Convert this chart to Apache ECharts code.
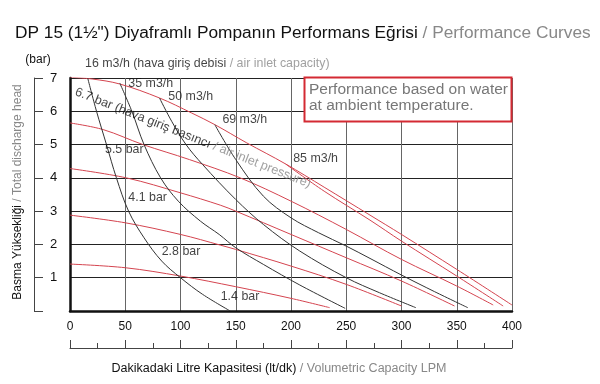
<!DOCTYPE html>
<html><head><meta charset="utf-8">
<script src="https://cdn.jsdelivr.net/npm/echarts/dist/echarts.min.js"></script>
<style>html,body{margin:0;padding:0;background:#fff}#c{width:600px;height:384px}</style>
</head><body><div id="c"></div>
<script>
// ---- data ----
const xTicks = [0, 50, 100, 150, 200, 250, 300, 350, 400];
const yTicks = [1, 2, 3, 4, 5, 6, 7];

// air inlet pressure curves (red)
const p67 = [[0,7.02],[20,6.97],[45,6.82],[81,6.4],[110,5.95],[131,5.6],[160,5.05],[195,4.42],[230,3.72],[271.5,2.88],[300,2.3],[350,1.25],[400,0.18]];
const p55 = [[0,5.65],[30,5.45],[66,5.0],[108,4.55],[154,4.0],[200,3.3],[250,2.45],[300,1.55],[350,0.75],[383,0.18]];
const p41 = [[0,4.28],[51,4.0],[100,3.55],[136,3.18],[150,3.0],[200,2.3],[250,1.6],[300,0.9],[348,0.15]];
const p28 = [[0,2.88],[50,2.65],[100,2.3],[136,1.98],[150,1.85],[200,1.35],[250,0.8],[300,0.15]];
const p14 = [[0,1.41],[50,1.3],[100,1.05],[150,0.73],[200,0.38],[235,0.1]];
// air consumption curves
const a16 = [[16,7.0],[24,6.0],[33,5.0],[42,4.0],[53,3.0],[67,2.2],[83,1.5],[100,1.0],[120,0.5],[145,0.0]];
const a35 = [[45,6.85],[56,6.0],[67,5.0],[82,4.0],[98,3.3],[118,2.7],[135,2.3],[150,1.9],[175,1.4],[208,0.78],[249,0.08]];
const a50 = [[81,6.4],[92,5.7],[105,5.0],[120,4.4],[150,3.35],[175,2.6],[208,1.8],[250,1.0],[280,0.55],[313,0.1]];
const a69 = [[131,5.6],[150,4.55],[175,3.45],[200,2.8],[225,2.35],[250,1.95],[271.5,1.58],[300,1.08],[330,0.58],[360,0.1]];
const a85 = [[195,4.42],[230,3.6],[271.5,2.73],[300,2.1],[350,1.05],[392,0.15]];

// curve labels: x, y, text
const labelX = [13.6, 52.8, 89, 137.9, 202, 31.7, 52.8, 83, 136.4, 111.3];
const labelY = [7.44, 6.83, 6.45, 5.76, 4.58, 4.85, 3.41, 1.8, 0.43, 5.2];
const labelText = [
  '16 m3/h (hava giriş debisi {g|/ air inlet capacity)}',
  '35 m3/h', '50 m3/h', '69 m3/h', '85 m3/h',
  '5.5 bar', '4.1 bar', '2.8 bar', '1.4 bar',
  '6.7 bar (hava giriş basıncı {g|/ air inlet pressure)}'
];

const RED = '#d4444f', BLK = '#333', GRAY = '#888';
const FONT = 'Liberation Sans, Arial, Helvetica, sans-serif';

const chart = echarts.init(document.getElementById('c'));

function curve(name, data, color) {
  return { name, type: 'line', data, showSymbol: false, smooth: 0.35, silent: true,
    lineStyle: { color, width: 1 }, z: 3, clip: true };
}

const labelData = labelX.map((x, i) => {
  const d = { value: [x, labelY[i]] };
  if (i === labelX.length - 1) {
    d.label = { position: 'inside', align: 'center', verticalAlign: 'middle', rotate: -21.6, distance: 0, fontSize: 12.6 };
  }
  return d;
});

chart.setOption({
  animation: false,
  textStyle: { fontFamily: FONT },
  grid: { left: 70, right: 88, top: 78, bottom: 73 },
  xAxis: [
    { type: 'value', min: 0, max: 400, interval: 50,
      axisLine: { show: true, onZero: false, lineStyle: { color: '#111', width: 2.5 } },
      axisTick: { show: false },
      axisLabel: { margin: 10, fontSize: 12, color: '#111', fontFamily: FONT },
      splitLine: { show: true, lineStyle: { color: '#666', width: 1 } } },
    { type: 'value', min: 0, max: 400, interval: 50, position: 'bottom', offset: 37,
      axisLine: { show: true, onZero: false, lineStyle: { color: '#444', width: 1 } },
      axisTick: { show: true, inside: true, length: 8, lineStyle: { color: '#444' } },
      minorTick: { show: true, splitNumber: 2, length: 5, lineStyle: { color: '#444' } },
      axisLabel: { show: false }, splitLine: { show: false } }
  ],
  yAxis: [
    { type: 'value', min: 0, max: 7, interval: 1,
      axisLine: { show: true, onZero: false, lineStyle: { color: '#111', width: 2.5 } },
      axisTick: { show: false }, axisLabel: { show: false },
      splitLine: { show: true, lineStyle: { color: '#222', width: 1 } } },
    { type: 'value', min: 0, max: 7, interval: 1, position: 'left', offset: 36,
      axisLine: { show: true, onZero: false, lineStyle: { color: '#444', width: 1 } },
      axisTick: { show: true, inside: true, length: 9, lineStyle: { color: '#444' } },
      axisLabel: { inside: true, margin: 16, fontSize: 13, color: '#111', fontFamily: FONT,
        formatter: v => (yTicks.indexOf(v) >= 0 ? String(v) : '') },
      splitLine: { show: false } }
  ],
  series: [
    curve('6.7 bar', p67, RED), curve('5.5 bar', p55, RED), curve('4.1 bar', p41, RED),
    curve('2.8 bar', p28, RED), curve('1.4 bar', p14, RED),
    curve('16 m3/h', a16, BLK), curve('35 m3/h', a35, BLK), curve('50 m3/h', a50, BLK),
    curve('69 m3/h', a69, BLK), curve('85 m3/h', a85, RED),
    { type: 'scatter', data: labelData, symbolSize: 0, silent: true, clip: false, z: 5,
      label: { show: true, position: 'right', distance: 0, align: 'left', verticalAlign: 'middle',
        fontSize: 12.4, color: '#111', fontFamily: FONT,
        formatter: p => labelText[p.dataIndex],
        rich: { g: { color: GRAY, fontFamily: FONT } } } }
  ],
  graphic: [
    { type: 'text', left: 15, top: 25, z: 10, style: {
        text: '{a|DP 15 (1½") Diyaframlı Pompanın Performans Eğrisi }{b|/ Performance Curves}',
        rich: { a: { fontSize: 17.3, fill: '#111', fontFamily: FONT }, b: { fontSize: 17.3, fill: GRAY, fontFamily: FONT } } } },
    { type: 'text', x: 38, y: 60, z: 10, style: { text: '(bar)', fontSize: 12, fill: '#111', fontFamily: FONT, align: 'center', verticalAlign: 'middle' } },
    { type: 'text', x: 18, y: 192, rotation: Math.PI / 2, z: 10, style: {
        text: '{a|Basma Yüksekliği }{b|/ Total discharge head}', align: 'center', verticalAlign: 'middle',
        rich: { a: { fontSize: 12, fill: '#111', fontFamily: FONT }, b: { fontSize: 12, fill: GRAY, fontFamily: FONT } } } },
    { type: 'text', x: 279, y: 369, z: 10, style: {
        text: '{a|Dakikadaki Litre Kapasitesi (lt/dk) }{b|/ Volumetric Capacity LPM}', align: 'center', verticalAlign: 'middle',
        rich: { a: { fontSize: 12.5, fill: '#111', fontFamily: FONT }, b: { fontSize: 12.5, fill: GRAY, fontFamily: FONT } } } },
    { type: 'rect', z: 20, shape: { x: 304.5, y: 77.5, width: 207, height: 44 },
      style: { fill: '#fff', stroke: '#d42a33', lineWidth: 2 } },
    { type: 'text', x: 309, y: 97.5, z: 21, style: {
        text: 'Performance based on water\nat ambient temperature.', fontSize: 15.5, lineHeight: 16,
        fill: '#777', fontFamily: FONT, verticalAlign: 'middle' } }
  ]
});
</script></body></html>
